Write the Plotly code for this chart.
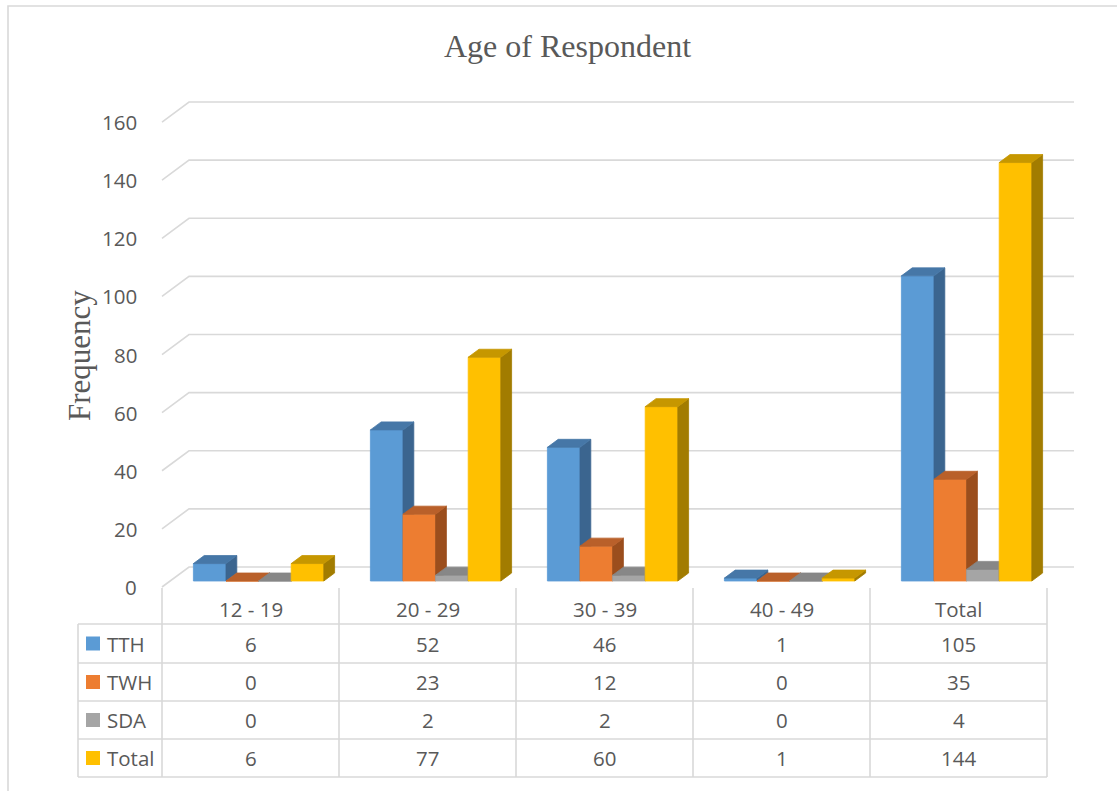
import plotly.graph_objects as go

# ---- data -------------------------------------------------------------
CATEGORIES = ["12 - 19", "20 - 29", "30 - 39", "40 - 49", "Total"]
SERIES_NAMES = ["TTH", "TWH", "SDA", "Total"]
TTH = [6, 52, 46, 1, 105]
TWH = [0, 23, 12, 0, 35]
SDA = [0, 2, 2, 0, 4]
TOTAL = [6, 77, 60, 1, 144]
Y_TICKS = [0, 20, 40, 60, 80, 100, 120, 140, 160]

SERIES_VALUES = [TTH, TWH, SDA, TOTAL]

# ---- styling ----------------------------------------------------------
FRONT = ["#5B9BD5", "#ED7D31", "#A5A5A5", "#FFC000"]
TOP = ["#4677A7", "#B9602A", "#878787", "#C69700"]
SIDE = ["#3B658F", "#9B4E1D", "#6E6E6E", "#A27C00"]
GRID = "#D9D9D9"
TEXT = "#595959"
FONT = "Open Sans"
SERIF = "Liberation Serif"
TXT_SIZE = 20.5

W, H = 1117, 791
CAT_PX = 177.0      # pixels per category step
UNIT_PX = 2.906     # pixels per frequency unit
X0_PX = 250.5       # pixel column of the first category centre
FLOOR_PX = 587.0    # pixel row of value 0 on the front plane

# depth of the 3-D box (front plane -> back wall), in axis units
DX = 27.0 / CAT_PX
DY = 20.0 / UNIT_PX
Z_FRONT, Z_BACK = 0.3, 0.7
BAR_W = 32.6 / CAT_PX


def px(p):
    return p / W


def py(p):
    return 1 - p / H


def col_px(k):
    return X0_PX + CAT_PX * k


fig = go.Figure()

# ---- back wall grid lines (with the short receding segment at the left)
shapes = []
n_cat = len(CATEGORIES)
for v in Y_TICKS:
    shapes.append(dict(
        type="path", xref="x", yref="y", layer="below",
        path=f"M {-0.5},{v} L {-0.5 + DX},{v + DY} L {n_cat - 0.5 + DX},{v + DY}",
        line=dict(color=GRID, width=1.6),
    ))

# ---- 3-D bars: front, side and top faces, painted left to right --------
ddx = (Z_BACK - Z_FRONT) * DX
ddy = (Z_BACK - Z_FRONT) * DY
base = Z_FRONT * DY
for i, (name, vals) in enumerate(zip(SERIES_NAMES, SERIES_VALUES)):
    fx, fy, sx, sy, tx, ty = [], [], [], [], [], []
    for k, v in enumerate(vals):
        centre = k + Z_FRONT * DX
        left = centre + (i - 2) * BAR_W
        right = left + BAR_W
        top = base + v
        fx += [left, right, right, left, left, None]
        fy += [base, base, top, top, base, None]
        sx += [right, right + ddx, right + ddx, right, right, None]
        sy += [base, base + ddy, top + ddy, top, base, None]
        tx += [left, right, right + ddx, left + ddx, left, None]
        ty += [top, top, top + ddy, top + ddy, top, None]
    for xs, ys, col in ((fx, fy, FRONT[i]), (sx, sy, SIDE[i]), (tx, ty, TOP[i])):
        fig.add_trace(go.Scatter(
            x=xs, y=ys, mode="lines", fill="toself", fillcolor=col,
            line=dict(color=col, width=0.8), name=name,
            hoverinfo="skip", showlegend=False,
        ))

annotations = []

# ---- value axis labels -------------------------------------------------
for v in Y_TICKS:
    annotations.append(dict(
        text=str(v), xref="paper", yref="y", x=px(139), y=v,
        xanchor="right", yanchor="middle", showarrow=False,
        font=dict(family=FONT, size=TXT_SIZE, color=TEXT),
    ))

# ---- titles ------------------------------------------------------------
annotations.append(dict(
    text="Age of Respondent", xref="paper", yref="paper",
    x=px(567), y=py(46), xanchor="center", yanchor="middle", showarrow=False,
    font=dict(family=SERIF, size=32, color=TEXT),
))
annotations.append(dict(
    text="Frequency", xref="paper", yref="paper", textangle=-90,
    x=px(79), y=py(356), xanchor="center", yanchor="middle", showarrow=False,
    font=dict(family=SERIF, size=31, color=TEXT),
))

# ---- data table under the plot -----------------------------------------
ROW_EDGES = [588, 624, 663, 701, 739, 777]
LABEL_LEFT = 78
tbl_line = dict(color=GRID, width=1.6)

for k in range(n_cat + 1):
    xb = px(col_px(k - 0.5))
    shapes.append(dict(type="line", xref="paper", yref="paper",
                       x0=xb, x1=xb, y0=py(ROW_EDGES[0]), y1=py(ROW_EDGES[-1]),
                       line=tbl_line))
shapes.append(dict(type="line", xref="paper", yref="paper",
                   x0=px(LABEL_LEFT), x1=px(LABEL_LEFT),
                   y0=py(ROW_EDGES[1]), y1=py(ROW_EDGES[-1]), line=tbl_line))
for r in ROW_EDGES[1:]:
    shapes.append(dict(type="line", xref="paper", yref="paper",
                       x0=px(LABEL_LEFT), x1=px(col_px(n_cat - 0.5)),
                       y0=py(r), y1=py(r), line=tbl_line))

# header row (category names)
hdr_c = (ROW_EDGES[0] + ROW_EDGES[1]) / 2 + 3
for k, cat in enumerate(CATEGORIES):
    annotations.append(dict(
        text=cat, xref="x", yref="paper", x=k, y=py(hdr_c),
        xanchor="center", yanchor="middle", showarrow=False,
        font=dict(family=FONT, size=TXT_SIZE, color=TEXT),
    ))

# series rows with legend keys
for i, (name, vals) in enumerate(zip(SERIES_NAMES, SERIES_VALUES)):
    rc = (ROW_EDGES[i + 1] + ROW_EDGES[i + 2]) / 2
    shapes.append(dict(type="rect", xref="paper", yref="paper",
                       x0=px(86), x1=px(100), y0=py(rc - 7), y1=py(rc + 7),
                       fillcolor=FRONT[i], line=dict(width=0)))
    annotations.append(dict(
        text=name, xref="paper", yref="paper", x=px(105), y=py(rc),
        xanchor="left", yanchor="middle", showarrow=False,
        font=dict(family=FONT, size=TXT_SIZE, color=TEXT),
    ))
    for k, v in enumerate(vals):
        annotations.append(dict(
            text=str(v), xref="x", yref="paper", x=k, y=py(rc),
            xanchor="center", yanchor="middle", showarrow=False,
            font=dict(family=FONT, size=TXT_SIZE, color=TEXT),
        ))

# chart frame
shapes.append(dict(type="rect", xref="paper", yref="paper",
                   x0=px(8), x1=px(W + 10), y0=py(6), y1=py(H + 10),
                   line=dict(color=GRID, width=1.6), layer="below"))

fig.update_layout(
    width=W, height=H,
    margin=dict(l=0, r=0, t=0, b=0, pad=0),
    paper_bgcolor="white", plot_bgcolor="white",
    showlegend=False,
    xaxis=dict(range=[-X0_PX / CAT_PX, (W - X0_PX) / CAT_PX], domain=[0, 1],
               visible=False, fixedrange=True),
    yaxis=dict(range=[-(H - FLOOR_PX) / UNIT_PX, FLOOR_PX / UNIT_PX], domain=[0, 1],
               visible=False, fixedrange=True),
    shapes=shapes,
    annotations=annotations,
)

fig.write_html("out.html")
